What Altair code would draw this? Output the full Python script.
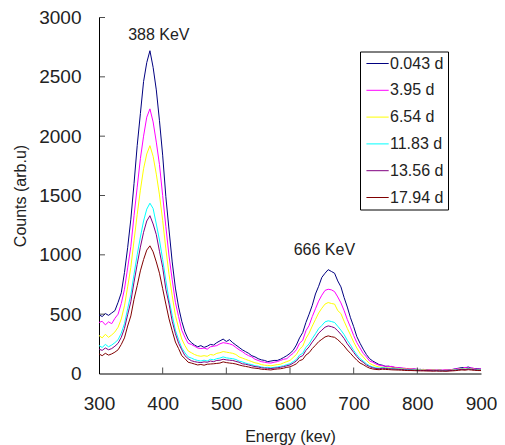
import altair as alt
import pandas as pd

# Energy grid (keV)
energy = list(range(300, 905, 5))

series_names = ["0.043 d", "3.95 d", "6.54 d", "11.83 d", "13.56 d", "17.94 d"]
series_colors = ["#000080", "#FF00FF", "#FFFF00", "#00FFFF", "#800080", "#800000"]

c_0043 = [495, 480, 505, 490, 510, 530, 600, 680, 850, 1060,
          1300, 1600, 1920, 2190, 2460, 2620, 2720, 2580, 2390, 2130,
          1840, 1490, 1210, 940, 720, 560, 440, 350, 290, 260,
          240, 225, 235, 220, 230, 245, 240, 260, 275, 290,
          270, 285, 260, 240, 220, 200, 185, 170, 150, 140,
          125, 115, 110, 100, 105, 110, 110, 120, 135, 150,
          170, 195, 240, 300, 345, 430, 500, 575, 670, 735,
          810, 845, 875, 860, 845, 780, 730, 640, 560, 470,
          395, 310, 255, 205, 160, 125, 105, 90, 75, 70,
          60, 62, 55, 50, 48, 45, 40, 42, 36, 38,
          33, 35, 30, 32, 28, 30, 27, 30, 26, 28,
          30, 33, 40, 45, 50, 48, 55, 45, 42, 40,
          38]
c_395 = [430, 440, 410, 435, 420, 465, 500, 590, 710, 890,
         1070, 1330, 1570, 1810, 2000, 2160, 2230, 2120, 1950, 1760,
         1500, 1240, 990, 790, 600, 480, 365, 305, 255, 245,
         230, 215, 210, 215, 205, 225, 230, 235, 250, 260,
         255, 250, 240, 220, 200, 185, 165, 150, 140, 120,
         110, 100, 95, 90, 88, 95, 100, 110, 120, 125,
         150, 170, 200, 255, 280, 360, 405, 480, 545, 610,
         660, 700, 710, 705, 690, 645, 595, 530, 455, 390,
         320, 260, 215, 170, 140, 105, 95, 80, 70, 65,
         62, 58, 60, 52, 50, 47, 45, 40, 42, 38,
         36, 33, 35, 30, 32, 28, 30, 27, 29, 32,
         28, 35, 38, 42, 40, 52, 45, 48, 40, 36,
         40]
c_654 = [320, 300, 330, 305, 325, 350, 390, 460, 570, 730,
         895, 1120, 1340, 1545, 1725, 1850, 1920, 1830, 1680, 1505,
         1290, 1050, 835, 655, 490, 385, 290, 235, 190, 175,
         160, 150, 145, 150, 145, 160, 155, 170, 175, 185,
         180, 175, 170, 160, 140, 130, 120, 110, 100, 90,
         85, 75, 70, 68, 65, 70, 75, 78, 90, 100,
         110, 135, 160, 205, 230, 295, 340, 400, 455, 510,
         550, 585, 598, 590, 585, 530, 505, 440, 380, 325,
         265, 215, 170, 140, 110, 85, 72, 62, 55, 52,
         50, 48, 45, 46, 42, 40, 38, 36, 37, 33,
         32, 30, 31, 28, 27, 29, 26, 28, 25, 27,
         26, 30, 33, 36, 40, 38, 42, 37, 35, 33,
         32]
c_1183 = [235, 220, 245, 225, 240, 260, 285, 340, 420, 545,
          665, 835, 1000, 1150, 1285, 1385, 1435, 1390, 1260, 1125,
          960, 785, 620, 490, 365, 285, 215, 175, 140, 130,
          118, 110, 105, 112, 105, 120, 115, 125, 130, 140,
          132, 128, 125, 118, 105, 98, 88, 80, 75, 65,
          62, 55, 50, 52, 48, 52, 55, 60, 65, 75,
          82, 100, 118, 155, 170, 220, 250, 295, 335, 378,
          405, 435, 444, 438, 430, 398, 365, 328, 280, 240,
          195, 158, 125, 105, 82, 65, 55, 48, 45, 50,
          46, 44, 42, 40, 38, 37, 34, 33, 32, 30,
          29, 28, 27, 26, 25, 26, 24, 25, 23, 25,
          24, 27, 30, 34, 38, 36, 40, 35, 33, 30,
          30]
c_1356 = [205, 195, 215, 200, 210, 230, 255, 305, 380, 495,
          605, 770, 920, 1065, 1190, 1285, 1330, 1260, 1170, 1030,
          895, 710, 585, 440, 335, 255, 200, 150, 125, 108,
          100, 95, 92, 98, 95, 105, 100, 110, 112, 120,
          115, 112, 110, 102, 95, 82, 78, 72, 65, 58,
          55, 48, 45, 44, 42, 45, 48, 52, 58, 65,
          72, 88, 105, 138, 150, 195, 225, 265, 300, 340,
          365, 390, 401, 395, 385, 360, 330, 295, 250, 215,
          178, 142, 112, 95, 72, 58, 48, 42, 40, 44,
          42, 40, 38, 37, 35, 34, 31, 30, 30, 28,
          27, 26, 25, 25, 24, 23, 24, 22, 23, 22,
          24, 26, 28, 32, 35, 33, 38, 34, 31, 29,
          28]
c_1794 = [165, 150, 170, 155, 165, 180, 200, 245, 300, 400,
          485, 625, 740, 865, 960, 1040, 1076, 1025, 940, 845,
          715, 585, 460, 360, 265, 210, 150, 125, 95, 88,
          80, 72, 76, 70, 78, 80, 82, 85, 88, 98,
          92, 88, 85, 80, 72, 65, 60, 55, 48, 45,
          42, 36, 34, 32, 30, 35, 38, 40, 45, 52,
          56, 68, 82, 108, 118, 155, 175, 210, 238, 268,
          288, 308, 317, 310, 305, 285, 260, 232, 198, 170,
          140, 112, 88, 75, 58, 45, 38, 34, 32, 36,
          34, 33, 31, 30, 29, 28, 26, 25, 25, 24,
          23, 22, 22, 21, 21, 20, 21, 20, 20, 19,
          21, 22, 24, 27, 30, 28, 32, 29, 27, 25,
          25]

x_ticks = [300, 400, 500, 600, 700, 800, 900]
y_ticks = [0, 500, 1000, 1500, 2000, 2500, 3000]
x_inner_ticks = [400, 500, 600, 700, 800]
y_inner_ticks = [500, 1000, 1500, 2000, 2500, 3000]

ann_text = ["388 KeV", "666 KeV"]
ann_x = [394, 654]
ann_y = [2851, 1037]

all_series = [c_0043, c_395, c_654, c_1183, c_1356, c_1794]
rows = []
for name, vals in zip(series_names, all_series):
    for e, v in zip(energy, vals):
        rows.append({"energy": e, "counts": v, "series": name})
df = pd.DataFrame(rows)

FONT = "Liberation Sans"
xscale = alt.Scale(domain=[300, 900], nice=False, zero=False)
yscale = alt.Scale(domain=[0, 3000], nice=False)

lines = alt.Chart(df).mark_line(strokeWidth=1, clip=True).encode(
    x=alt.X("energy:Q", scale=xscale,
            axis=alt.Axis(values=x_ticks, format="d", title="Energy (kev)",
                          labelFlush=False, labelPadding=21, titlePadding=15)),
    y=alt.Y("counts:Q", scale=yscale,
            axis=alt.Axis(values=y_ticks, format="d", title="Counts (arb.u)",
                          labelFlush=False, labelPadding=18, titlePadding=10)),
    color=alt.Color("series:N", sort=series_names,
                    scale=alt.Scale(domain=series_names, range=series_colors),
                    legend=alt.Legend(
                        title=None, orient="none", legendX=261, legendY=34,
                        symbolType="M-1,0H3", symbolSize=124, symbolStrokeWidth=1,
                        labelFont=FONT, labelFontSize=16, labelColor="#222",
                        labelOffset=10, rowPadding=10.8, padding=4,
                        strokeColor="black", fillColor="white")),
)

xt = alt.Chart(pd.DataFrame({"v": x_inner_ticks})).mark_tick(
    orient="vertical", size=6, thickness=1, yOffset=-3, color="black").encode(
    x=alt.X("v:Q", scale=xscale), y=alt.datum(0))
yt = alt.Chart(pd.DataFrame({"v": y_inner_ticks})).mark_tick(
    orient="horizontal", size=6, thickness=1, xOffset=3, color="black").encode(
    y=alt.Y("v:Q", scale=yscale), x=alt.datum(300))

ann = alt.Chart(pd.DataFrame({"t": ann_text, "x": ann_x, "y": ann_y})).mark_text(
    font=FONT, fontSize=16, color="#222").encode(
    x=alt.X("x:Q", scale=xscale), y=alt.Y("y:Q", scale=yscale), text="t:N")

chart = alt.layer(lines, xt, yt, ann).properties(
    width=382, height=356,
    background="white",
    autosize=alt.AutoSizeParams(type="none"),
    padding={"left": 91, "top": 9.5, "right": 16, "bottom": 72},
).configure_view(stroke=None).configure_axis(
    grid=False, ticks=False, domainColor="black", domainWidth=1,
    labelFont=FONT, labelFontSize=19, labelColor="#222",
    titleFont=FONT, titleFontSize=16, titleFontWeight="normal", titleColor="#222",
)

chart.save("out.html", embed_options={"renderer": "svg", "actions": False})
